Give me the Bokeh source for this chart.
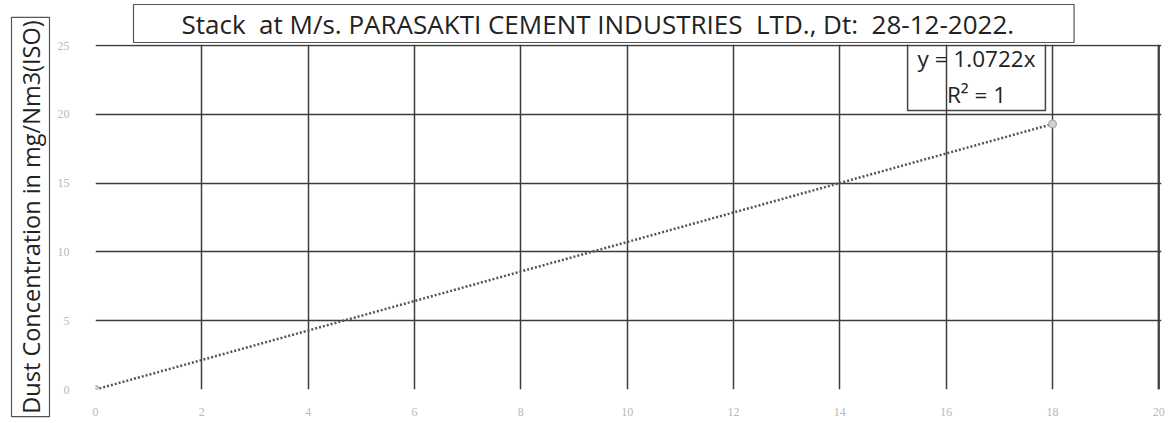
from bokeh.plotting import figure
from bokeh.models import Label, FixedTicker, Range1d, Title
from bokeh.embed import file_html
from bokeh.resources import INLINE

# ---- data ----
x_points = [0, 18]
y_points = [0, 19.3]
slope = 1.0722
x_ticks = [0, 2, 4, 6, 8, 10, 12, 14, 16, 18, 20]
y_ticks = [0, 5, 10, 15, 20, 25]
title_text = "Stack\u00a0 at M/s. PARASAKTI CEMENT INDUSTRIES\u00a0 LTD., Dt:\u00a0 28-12-2022."
y_label_text = "Dust Concentration in mg/Nm3(ISO)"
eq_text = "y = 1.0722x\nR\u00b2 = 1"

GRID_COLOR = "#3c3c3c"

p = figure(width=1170, height=420, output_backend="svg", toolbar_location=None,
           x_range=Range1d(0, 20.05), y_range=Range1d(0, 25.08),
           min_border_left=95, min_border_right=9, min_border_top=42, min_border_bottom=31)
p.outline_line_color = None
p.background_fill_color = "white"
p.title.visible = False

for ax in (p.xaxis[0], p.yaxis[0]):
    ax.axis_line_color = None
    ax.major_tick_line_color = None
    ax.minor_tick_line_color = None
    ax.major_label_text_color = "#b8b8b8"
    ax.major_label_text_font = "Liberation Serif"
    ax.major_label_text_font_size = "12px"

p.xaxis.ticker = FixedTicker(ticks=x_ticks)
p.yaxis.ticker = FixedTicker(ticks=y_ticks)
p.xaxis.major_label_standoff = 12
p.yaxis.major_label_standoff = 20

p.xgrid.ticker = FixedTicker(ticks=x_ticks)
p.ygrid.ticker = FixedTicker(ticks=y_ticks)
for g in (p.xgrid[0], p.ygrid[0]):
    g.grid_line_color = GRID_COLOR
    g.grid_line_width = 1.5
# last vertical gridline at the end of the x ticks, spanning the y ticks
p.segment(x0=[x_ticks[-1]], y0=[y_ticks[0]], x1=[x_ticks[-1]], y1=[y_ticks[-1]],
          line_color=GRID_COLOR, line_width=2)

# trendline from fitted slope
tx = [0, x_points[-1]]
ty = [slope * v for v in tx]
p.line(tx, ty, line_color="#555555", line_width=2.5, line_dash="2 2")
p.scatter(x_points, y_points, size=8, fill_color="#d0d0d0", line_color="#a0a0a0")

# title box
p.add_layout(Title(text=title_text, align="left", offset=38, standoff=4,
                   text_font="Open Sans", text_font_size="26px", text_font_style="normal",
                   text_color="#222222",
                   border_line_color="#555555", border_line_width=1.2,
                   padding=dict(left=48, right=60, top=1, bottom=1)), "above")

# y label box
p.add_layout(Title(text=y_label_text, align="center", offset=5, standoff=10,
                   text_font="Open Sans", text_font_size="23.5px", text_font_style="normal",
                   text_color="#222222",
                   border_line_color="#555555", border_line_width=1.2,
                   padding=3), "left")

# equation box
p.add_layout(Label(x=881, y=313, x_units="screen", y_units="screen", text=eq_text,
                   text_align="center", text_baseline="middle", text_line_height=1.13,
                   text_font="Open Sans", text_font_size="22.5px", text_color="#222222",
                   border_line_color="#444444", border_line_width=1.5,
                   padding=dict(left=10, right=10, top=1, bottom=1)))

open("out.html", "w").write(file_html(p, INLINE))
